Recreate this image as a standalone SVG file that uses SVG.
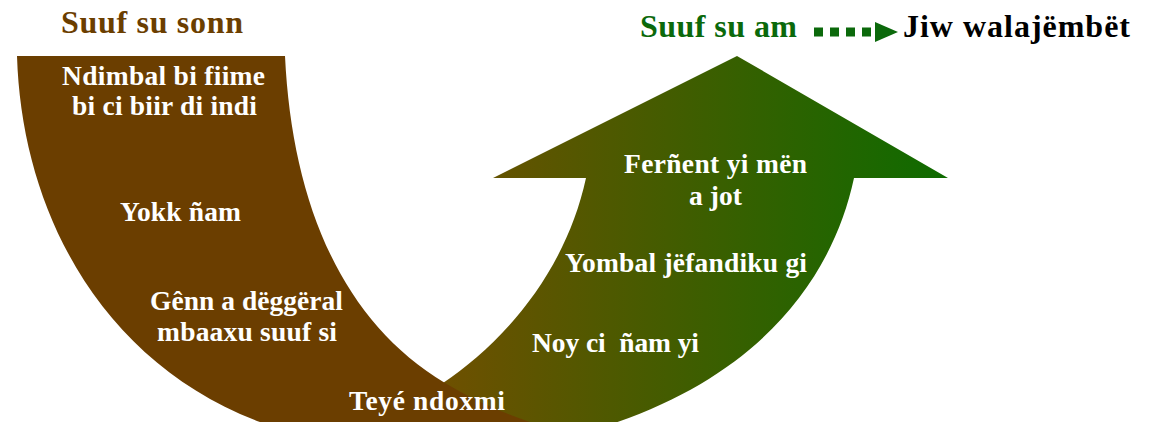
<svg xmlns="http://www.w3.org/2000/svg" width="1156" height="422" viewBox="0 0 1156 422">
  <style>
    .lbl { font-family: "Liberation Serif", "Times New Roman", serif; font-weight: bold; font-size: 27.5px; fill: #ffffff; text-anchor: middle; white-space: pre; }
    .ttl { font-family: "Liberation Serif", "Times New Roman", serif; font-weight: bold; font-size: 32px; white-space: pre; }
    .brown { fill: #6B3E00; }
    .green { fill: #0B690B; }
    .black { fill: #000000; }
  </style>
  <defs>
    <linearGradient id="upGrad" gradientUnits="userSpaceOnUse" x1="443" y1="0" x2="948" y2="0">
      <stop offset="0" stop-color="#6E5000"/>
      <stop offset="1" stop-color="#0E6B00"/>
    </linearGradient>
  </defs>
  <rect width="1156" height="422" fill="#ffffff"/>

  <g id="node-up-arrow">
    <path d="M 443,383 C 500,345 565,275 586,178 L 493,178 L 737,56 L 948,178 L 854,178 C 830,290 745,390 575,435 L 420,435 Z" fill="url(#upGrad)"/>
  </g>
  <g id="node-down-band">
    <path class="brown" d="M 17,56 L 285,56 C 292,200 340,320 445,383 C 480,404 515,418 560,432 L 290,432 C 110,380 22,220 17,56 Z"/>
  </g>

  <g id="title-left">
    <text class="ttl brown" x="61" y="33" textLength="182">Suuf su sonn</text>
  </g>
  <g id="title-right">
    <text class="ttl green" x="640" y="37" textLength="157">Suuf su am</text>
  </g>
  <g id="title-goal">
    <text class="ttl black" x="903" y="37" textLength="227">Jiw walajëmbët</text>
  </g>

  <g id="connectors">
    <line x1="814" y1="32" x2="873" y2="32" stroke="#0B690B" stroke-width="9" stroke-dasharray="9 7"/>
    <polygon points="875,22 898,32 875,42" fill="#0B690B"/>
  </g>

  <g id="label-1">
    <text class="lbl" x="163.5" y="85" textLength="203">Ndimbal bi fiime</text>
    <text class="lbl" x="164.5" y="115" textLength="185">bi ci biir di indi</text>
  </g>
  <g id="label-2">
    <text class="lbl" x="180.5" y="221" textLength="121">Yokk ñam</text>
  </g>
  <g id="label-3">
    <text class="lbl" x="246.5" y="310" textLength="193">Gênn a dëggëral</text>
    <text class="lbl" x="247" y="341" textLength="180">mbaaxu suuf si</text>
  </g>
  <g id="label-4">
    <text class="lbl" x="427" y="410" textLength="156">Teyé ndoxmi</text>
  </g>
  <g id="label-5">
    <text class="lbl" x="615.5" y="352" textLength="167">Noy ci  ñam yi</text>
  </g>
  <g id="label-6">
    <text class="lbl" x="686" y="272" textLength="242">Yombal jëfandiku gi</text>
  </g>
  <g id="label-7">
    <text class="lbl" x="715.5" y="173" textLength="183">Ferñent yi mën</text>
    <text class="lbl" x="715.5" y="205" textLength="53">a jot</text>
  </g>
</svg>
